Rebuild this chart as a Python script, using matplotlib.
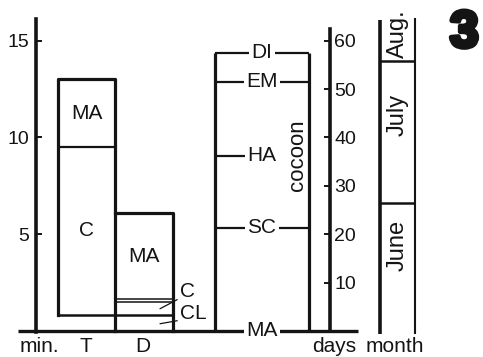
import matplotlib.pyplot as plt
import matplotlib.patheffects as pe

plt.rcParams["font.family"] = ["Liberation Sans", "DejaVu Sans"]

# -----------------------------------
# data: left scale in "min." units, right scale in days
# -----------------------------------
t_bounds = [0.85, 9.5, 13.0]          # T column: C below, MA above
t_labels = ["C", "MA"]
d_bounds = [0.0, 0.85, 1.55, 6.1]     # D column: CL, C, MA
d_labels = ["CL", "C", "MA"]
min_ticks = [5, 10, 15]

event_days = [0, 21.3, 36.2, 51.5, 57.5]
event_names = ["MA", "SC", "HA", "EM", "DI"]
day_ticks = [10, 20, 30, 40, 50, 60]

month_bounds = [0, 26.4, 55.8, 64.8]
month_names = ["June", "July", "Aug."]
month_label_days = [17.6, 44.6, 61.4]

# -----------------------------------
# layout (x in pixel-like units, 0..483)
# -----------------------------------
INK = "#141414"
FS = 15
x_axis = 36
x_t = (58, 115)
x_d = (115, 173)
x_coc = (215, 309)
x_days = 330
x_mon = (380, 415)
lw_box = 2.3

fig = plt.figure(figsize=(4.83, 3.57), dpi=100)
ax = fig.add_axes([0, 0, 1, 1])
ax.set_xlim(0, 483)
ax.set_ylim(-1.344, 17.106)
ax.patch.set_alpha(0)

# left ("min.") axis
for s in ["top", "right", "bottom"]:
    ax.spines[s].set_visible(False)
ax.spines["left"].set_position(("data", x_axis))
ax.spines["left"].set_bounds(-0.05, 16.1)
ax.spines["left"].set_linewidth(2.6)
ax.spines["left"].set_color(INK)
ax.set_xticks([])
ax.set_yticks(min_ticks)
ax.tick_params(axis="y", direction="in", length=4, width=1.4, pad=5,
               labelsize=14, colors=INK)

# days axis
ax2 = ax.twinx()
ax2.set_ylim(ax.get_ylim()[0] * 4, ax.get_ylim()[1] * 4)
for s in ["top", "left", "bottom"]:
    ax2.spines[s].set_visible(False)
ax2.spines["right"].set_position(("data", x_days))
ax2.spines["right"].set_bounds(0, 62.5)
ax2.spines["right"].set_linewidth(2.6)
ax2.spines["right"].set_color(INK)
ax2.set_yticks(day_ticks)
ax2.tick_params(axis="y", direction="in", length=4, width=1.4, pad=3,
                labelsize=14, colors=INK)

# baseline
ax.hlines(0, 18, 358, color=INK, lw=2.4)

# T column
ax.plot([x_t[0], x_t[0], x_t[1], x_t[1]],
        [t_bounds[0], t_bounds[-1], t_bounds[-1], 0], color=INK, lw=lw_box)
ax.hlines(t_bounds[1], x_t[0], x_t[1], color=INK, lw=1.6)
ax.hlines(t_bounds[0], x_t[0], x_d[1], color=INK, lw=1.8)
for i, lab in enumerate(t_labels):
    ax.text(sum(x_t) / 2, (t_bounds[i] + t_bounds[i + 1]) / 2, lab,
            ha="center", va="center", fontsize=FS, color=INK)

# D column
ax.plot([x_d[0], x_d[1], x_d[1]], [d_bounds[-1], d_bounds[-1], 0],
        color=INK, lw=lw_box)
ax.hlines([d_bounds[2] - 0.07, d_bounds[2] + 0.09], x_d[0], x_d[1],
          color=INK, lw=1.1)
ax.text(sum(x_d) / 2, (d_bounds[2] + d_bounds[3]) / 2, d_labels[2],
        ha="center", va="center", fontsize=FS, color=INK)
# small labels outside the D column with leader lines
for i, ty in zip([1, 0], [2.04, 0.9]):
    ax.annotate(d_labels[i], xy=(160, (d_bounds[i] + d_bounds[i + 1]) / 2 - 0.05),
                xytext=(180, ty), ha="left", va="center", fontsize=FS, color=INK,
                arrowprops=dict(arrowstyle="-", color=INK, lw=0.9,
                                relpos=(0, 0.15), shrinkA=0, shrinkB=0))

# cocoon column
ax2.vlines(x_coc, 0, event_days[-1], color=INK, lw=lw_box)
xc = sum(x_coc) / 2
for d, name in zip(event_days, event_names):
    if name != "MA":
        right = x_coc[1] if name != "HA" else xc
        ax2.hlines(d, x_coc[0], right, color=INK, lw=1.6)
    ax2.text(xc, d, name, ha="center", va="center", fontsize=FS, color=INK,
             bbox=dict(fc="white", ec="none", pad=1.5))
ax2.text(298, 36.4, "cocoon", rotation=90, ha="center", va="center",
         fontsize=16, color=INK)

# month column
ax2.vlines(x_mon[0], -0.6, month_bounds[-1] - 0.6, color=INK, lw=2.6)
ax2.vlines(x_mon[1], -0.6, month_bounds[-1], color=INK, lw=1.5)
ax2.hlines(month_bounds[1:-1], x_mon[0], x_mon[1], color=INK, lw=1.8)
for ly, m in zip(month_label_days, month_names):
    ax2.text(sum(x_mon) / 2, ly, m, rotation=90, ha="center", va="center",
             fontsize=17, color=INK)

# bottom labels
for x, lab in [(39, "min."), (86, "T"), (143, "D"), (334, "days"), (395, "month")]:
    ax.text(x, -0.82, lab, ha="center", va="center", fontsize=FS, color=INK)

# panel number
ax.text(450, 16.65, "3", ha="left", va="top", fontsize=37, fontweight="bold",
        color=INK, path_effects=[pe.withStroke(linewidth=3.5, foreground=INK)])

fig.savefig("out.png", dpi=100, facecolor="white")
